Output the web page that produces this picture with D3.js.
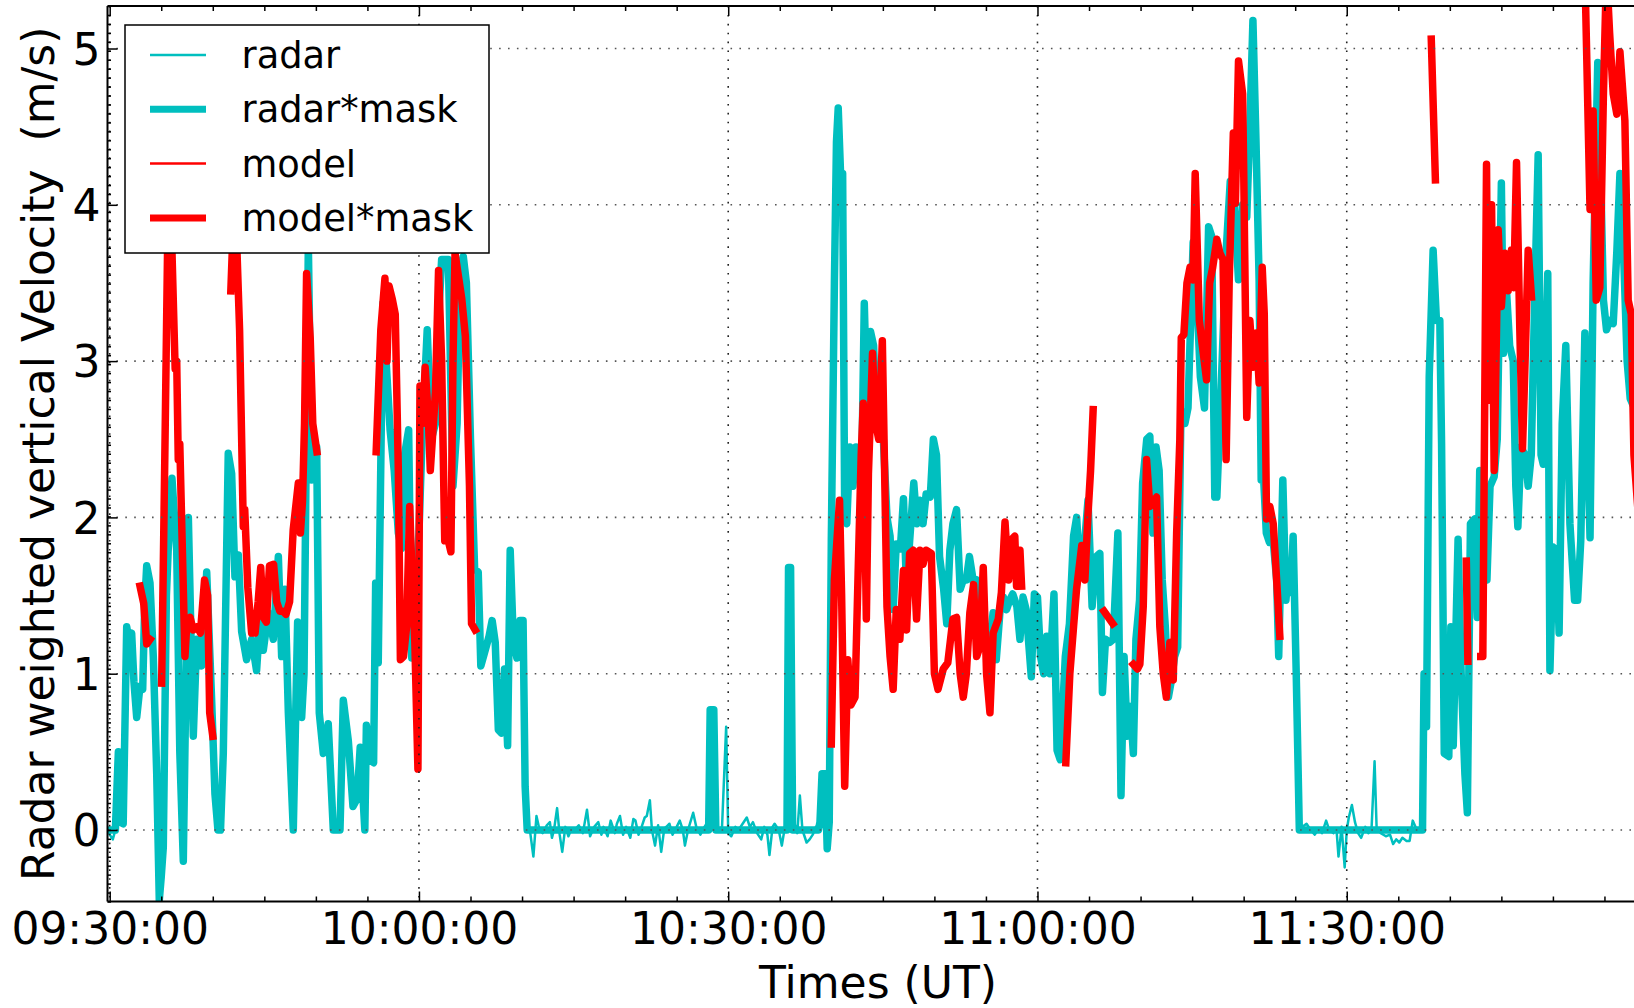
<!DOCTYPE html>
<html>
<head>
<meta charset="utf-8">
<script src="https://cdn.jsdelivr.net/npm/d3@7"></script>
<style>
  html, body { margin: 0; padding: 0; background: #fff; }
  svg { display: block; font-family: "DejaVu Sans", sans-serif; }
</style>
</head>
<body>
<svg id="chart" width="1634" height="1008"></svg>
<script>
// ---- time axis: minutes after 09:30:00 UT ----
const startClock = "09:30:00";
const endClock = "12:00:00";
const xTickLabels = ["09:30:00", "10:00:00", "10:30:00", "11:00:00", "11:30:00"];
const yTicks = [0, 1, 2, 3, 4, 5];
const yLimits = [-0.4575, 5.272];
const xStartMinutes = -0.213;

// intervals (minutes) where the mask is off: radar*mask is 0 there
const maskOff = [[-1, 0.6], [40.45, 58.15], [58.7, 65.75], [66.15, 68.85], [115.35, 127.35]];

// radar weighted vertical velocity (m/s): [minute, value]
const radar = [
  [-0.25,0],[0.0,-0.03],[0.3,-0.06],[0.55,0.0],[0.84,0.5],[1.05,0.05],[1.31,0.04],[1.65,1.3],[1.9,1.2],[2.13,1.26],
  [2.35,0.95],[2.62,0.72],[2.94,0.92],[3.2,0.9],[3.4,1.45],[3.59,1.69],[3.91,1.58],[4.23,1.11],[4.56,0.36],[4.81,-0.45],
  [5.0,-0.3],[5.2,-0.11],[5.5,1.5],[5.8,2.0],[6.04,2.25],[6.5,1.79],[6.8,0.5],[7.14,-0.2],[7.63,2.0],[7.9,1.2],
  [8.11,0.6],[8.44,1.22],[8.92,1.05],[9.41,1.65],[9.89,0.83],[10.21,0.23],[10.5,0],[10.75,0],[11.02,0.49],[11.5,2.41],
  [11.83,2.28],[12.15,1.62],[12.48,1.76],[12.8,1.27],[13.28,1.09],[13.77,1.22],[14.25,1.02],[14.58,1.36],[14.9,1.15],[15.39,1.39],
  [15.87,1.22],[16.36,1.75],[16.68,1.11],[17.0,1.54],[17.33,0.75],[17.81,0],[18.23,1.33],[18.62,0.72],[18.85,1.0],[19.27,3.75],
  [19.59,2.24],[20.08,2.45],[20.33,0.75],[20.72,0.49],[21.2,0.68],[21.69,0],[22.34,0],[22.66,0.83],[23.15,0.57],[23.6,0.15],
  [24.0,0.2],[24.3,0.53],[24.75,0],[24.9,0.67],[25.25,0.45],[25.6,0.43],[25.8,1.58],[26.05,1.07],[26.5,3.37],[26.9,2.9],
  [27.2,2.56],[27.6,2.3],[28.0,1.9],[28.3,1.8],[28.6,2.4],[29.0,2.56],[29.3,1.1],[29.6,1.5],[30.0,1.9],[30.3,2.5],
  [30.8,3.2],[31.2,2.5],[31.6,2.6],[32.0,3.4],[32.2,3.65],[32.85,3.65],[33.3,2.2],[33.7,2.6],[34.0,3.6],[34.3,3.67],
  [34.6,3.5],[35.0,2.5],[35.4,1.67],[35.75,1.65],[36.0,1.05],[36.3,1.12],[36.8,1.24],[37.1,1.34],[37.4,1.2],[37.7,0.64],
  [38.0,0.62],[38.3,1.03],[38.6,0.54],[38.85,1.79],[39.15,1.22],[39.5,1.1],[39.8,1.34],[40.1,1.34],[40.3,0.28],
  [40.5,0],[40.8,-0.02],[41.1,-0.17],[41.4,0.09],[41.7,0.0],[42.0,-0.02],[42.4,0.03],[42.7,0.05],[42.9,-0.05],[43.1,0.0],
  [43.4,0.14],[43.65,-0.03],[43.9,-0.14],[44.2,0.02],[44.5,-0.04],[44.8,0.01],[45.1,0.0],[45.5,0.03],[45.9,-0.02],[46.3,0.13],
  [46.6,-0.04],[47.0,0.02],[47.4,0.05],[47.7,-0.03],[47.9,0.02],[48.3,-0.04],[48.6,0.06],[49.0,-0.02],[49.2,0.04],[49.5,0.09],
  [49.8,-0.03],[50.1,0.02],[50.5,-0.05],[50.8,0.07],[51.0,0.06],[51.3,-0.03],[51.6,0.02],[51.9,0.08],[52.1,0.09],[52.4,0.19],
  [52.6,0.0],[52.9,-0.1],[53.2,0.03],[53.5,-0.14],[53.8,0.01],[54.0,0.02],[54.3,0.04],[54.6,-0.03],[55.0,0.02],[55.3,0.06],
  [55.6,0.0],[55.8,-0.1],[56.1,0.0],[56.6,0.11],[56.9,0.02],[57.3,-0.03],[57.6,0.01],[57.9,0.04],[58.1,0.1],[58.25,0.77],
  [58.6,0.77],[58.8,0.05],[59.1,0.0],[59.4,0.02],[59.8,0.66],[60.0,-0.02],[60.3,-0.04],[60.7,0.02],[61.0,0.0],[61.4,0.04],
  [61.8,0.08],[62.1,0.02],[62.4,0.05],[62.8,-0.02],[63.2,-0.06],[63.5,0.02],[63.8,-0.03],[64.0,-0.16],[64.3,0.02],[64.5,0.04],
  [64.9,0.0],[65.2,-0.1],[65.5,0.02],[65.7,0.05],[65.85,1.68],[66.05,1.68],[66.25,0.05],[66.5,0.03],[66.7,-0.02],[66.95,0.22],
  [67.2,0.0],[67.6,-0.08],[67.9,-0.06],[68.2,-0.03],[68.5,0.02],[68.75,0.02],[68.9,0.05],[69.1,0.36],[69.4,0.36],[69.6,-0.12],
  [69.8,0.05],[70.0,1.85],[70.3,3.5],[70.5,4.4],[70.67,4.62],[70.9,4.2],[71.1,4.2],[71.3,2.0],[71.5,1.96],[71.8,2.45],
  [72.1,2.2],[72.4,2.45],[72.7,2.3],[73.0,2.5],[73.2,3.37],[73.5,2.6],[73.8,3.19],[74.1,3.1],[74.4,2.6],[74.7,2.5],
  [75.05,2.5],[75.4,2.0],[75.7,1.88],[76.0,1.41],[76.3,1.83],[76.7,1.8],[77.0,2.12],[77.3,1.54],[77.6,1.85],[78.0,2.22],
  [78.3,1.96],[78.6,2.11],[78.9,1.96],[79.2,2.15],[79.6,2.13],[79.9,2.5],[80.2,2.4],[80.5,1.75],[80.9,1.54],[81.2,1.32],
  [81.5,1.79],[81.8,1.96],[82.15,2.05],[82.5,1.54],[82.8,1.6],[83.1,1.6],[83.4,1.75],[83.8,1.58],[84.1,1.6],[84.4,1.37],
  [84.7,1.22],[85.1,1.3],[85.4,1.22],[85.7,1.39],[86.0,1.09],[86.4,1.43],[86.7,1.49],[87.0,1.41],[87.3,1.47],[87.6,1.51],
  [88.0,1.43],[88.3,1.22],[88.6,1.49],[88.9,1.41],[89.4,0.98],[89.7,1.51],[90.0,1.49],[90.3,1.11],[90.6,1.0],[90.9,1.24],
  [91.2,1.0],[91.6,1.51],[91.9,0.51],[92.2,0.45],[92.7,1.11],[93.1,1.32],[93.5,1.88],[93.8,2.0],[94.1,1.65],[94.4,1.7],
  [94.9,2.11],[95.3,1.43],[95.7,1.75],[96.05,1.77],[96.3,0.88],[96.6,1.22],[97.0,1.2],[97.35,1.22],[97.8,1.9],[98.1,0.22],
  [98.4,1.11],[98.7,0.6],[99.0,0.79],[99.3,0.49],[99.55,1.22],[99.9,1.47],[100.2,2.22],[100.6,2.5],[100.9,2.52],[101.2,1.9],
  [101.5,2.45],[101.8,2.3],[102.1,1.6],[102.4,1.3],[102.7,0.85],[103.0,0.96],[103.3,1.11],[103.6,1.17],[103.9,2.6],[104.3,2.6],
  [104.6,2.7],[105.1,3.76],[105.4,3.5],[105.8,2.9],[106.2,2.7],[106.6,3.86],[106.9,3.8],[107.2,2.13],[107.4,2.13],[107.8,2.8],
  [108.3,3.7],[108.7,4.15],[109.1,4.0],[109.5,3.52],[109.9,4.0],[110.3,3.92],[110.6,4.5],[110.9,5.18],[111.2,4.4],[111.5,3.52],
  [111.7,2.24],[111.9,2.3],[112.2,1.9],[112.5,1.84],[112.8,1.9],[113.2,1.6],[113.4,1.11],[113.8,2.24],[114.1,1.47],[114.4,1.72],
  [114.6,1.52],[114.8,1.88],[115.1,1.0],[115.4,0],
  [115.7,0.02],[116.1,0.04],[116.5,0.0],[116.9,-0.03],[117.3,0.01],[117.6,-0.02],[118.0,0.06],[118.3,0.0],[118.7,-0.02],[119.0,0.01],
  [119.2,-0.17],[119.5,0.02],[119.8,-0.24],[120.0,0.0],[120.2,0.08],[120.5,0.16],[120.8,0.05],[121.1,-0.02],[121.4,-0.05],[121.8,0.02],
  [122.1,-0.02],[122.4,0.0],[122.7,0.44],[122.9,0.01],[123.3,-0.02],[123.8,-0.04],[124.2,-0.03],[124.5,-0.09],[124.8,-0.06],[125.1,-0.08],
  [125.4,-0.05],[125.8,-0.07],[126.1,-0.07],[126.4,0.06],[126.8,0.0],[127.1,0.0],[127.35,0],
  [127.5,1.0],[127.74,0.66],[128.0,2.9],[128.38,3.71],[128.7,3.26],[129.03,3.26],[129.2,2.47],[129.46,0.49],[129.9,0.47],[130.1,1.3],
  [130.33,0.54],[130.8,1.86],[131.1,1.0],[131.46,0.36],[131.7,0.11],[132.0,1.96],[132.4,1.99],[132.66,1.36],[132.9,2.3],[133.2,1.8],
  [133.6,1.6],[133.9,2.2],[134.3,2.26],[134.6,2.5],[135.0,4.14],[135.2,3.05],[135.5,3.45],[135.8,3.1],[136.15,3.0],[136.4,2.2],
  [136.6,1.94],[136.9,2.45],[137.3,2.4],[137.6,2.2],[137.9,2.4],[138.2,3.3],[138.57,4.32],[138.85,2.4],[139.06,2.34],[139.5,3.56],
  [139.71,1.02],[140.03,1.81],[140.35,1.79],[140.6,1.26],[140.9,2.6],[141.25,3.1],[141.65,1.96],[142.1,1.47],[142.4,1.47],[142.7,1.85],
  [143.1,3.18],[143.6,1.87],[143.9,3.5],[144.35,4.91],[144.6,4.3],[144.9,3.39],[145.2,3.2],[145.5,3.26],[145.85,3.24],[146.2,3.7],
  [146.5,4.2],[146.9,3.6],[147.2,3.0],[147.5,2.76],[147.9,2.7],[148.3,2.9]
];

// model vertical velocity (m/s): [minute, value]; null marks a gap
const model = [
  [2.94,1.56],[3.3,1.45],[3.59,1.19],[3.91,1.22],[4.4,null],
  [5.04,0.94],[5.35,2.4],[5.65,3.9],[6.0,3.8],[6.35,2.95],[6.5,3.0],[6.65,2.37],[6.8,2.47],[7.3,1.11],[7.5,1.34],
  [7.8,1.36],[8.1,1.28],[8.5,1.3],[8.8,1.26],[9.2,1.6],[9.5,1.5],[9.7,0.75],[10.0,0.6],[10.8,null],
  [11.75,3.45],[12.0,3.9],[12.3,3.8],[12.6,3.2],[12.96,1.94],[13.1,2.05],[13.4,1.55],[13.77,1.26],[14.1,1.26],[14.4,1.46],
  [14.65,1.68],[14.9,1.36],[15.2,1.33],[15.5,1.69],[15.9,1.7],[16.2,1.46],[16.5,1.4],[16.8,1.4],[17.1,1.38],[17.45,1.46],
  [17.8,1.92],[18.1,2.1],[18.3,2.22],[18.5,1.9],[18.7,2.1],[18.9,2.6],[19.1,3.56],[19.45,3.15],[19.7,2.6],[20.1,2.42],[22,null],
  [25.85,2.42],[26.3,3.2],[26.7,3.53],[26.9,3.0],[27.1,3.48],[27.4,3.4],[27.7,3.3],[28.0,2.3],[28.2,1.09],[28.5,1.11],
  [28.8,1.3],[29.1,2.07],[29.4,1.5],[29.6,1.2],[29.9,0.39],[30.1,2.84],[30.35,2.6],[30.6,2.96],[30.9,2.65],[31.1,2.3],
  [31.3,2.5],[31.6,2.8],[31.9,3.58],[32.2,3.0],[32.5,1.85],[32.85,1.85],[33.1,1.78],[33.3,3.0],[33.5,3.69],[33.7,3.6],
  [34.15,3.4],[34.5,3.16],[34.9,2.2],[35.1,1.32],[35.45,1.28],[36,null],
  [70.0,0.55],[70.3,1.6],[70.8,2.11],[71.0,1.5],[71.3,0.28],[71.6,1.09],[71.9,0.8],[72.3,0.85],[72.6,1.64],[72.9,2.4],
  [73.1,2.73],[73.4,1.35],[73.6,2.28],[74.0,3.05],[74.3,2.6],[74.6,2.5],[74.95,3.13],[75.4,1.43],[75.7,1.11],[76.0,0.9],
  [76.3,1.41],[76.65,1.22],[77.0,1.66],[77.3,1.28],[77.6,1.77],[77.95,1.79],[78.27,1.35],[78.6,1.79],[78.9,1.7],[79.2,1.79],
  [79.7,1.77],[80.0,1.0],[80.35,0.9],[80.86,1.03],[81.3,1.07],[81.8,1.35],[82.15,1.36],[82.5,1.0],[82.8,0.85],[83.1,1.0],
  [83.44,1.39],[83.8,1.57],[84.1,1.11],[84.4,1.17],[84.74,1.68],[85.06,1.0],[85.39,0.75],[85.7,1.26],[86.2,1.35],[86.5,1.52],
  [86.85,1.97],[87.2,1.6],[87.5,1.86],[87.8,1.88],[87.97,1.56],[88.3,1.79],[88.46,1.56],[90,null],
  [92.75,0.43],[93.14,1.0],[93.5,1.3],[93.79,1.54],[94.3,1.82],[94.6,1.6],[94.9,2.02],[95.15,2.3],[95.4,2.69],[95.8,null],
  [96.45,1.4],[97.3,1.32],[98,null],
  [99.3,1.06],[99.7,1.03],[99.93,1.06],[100.26,1.43],[100.58,2.37],[100.9,2.07],[101.23,2.1],[101.55,2.13],[101.87,1.3],[102.2,1.0],
  [102.5,0.85],[102.84,1.2],[103.17,0.96],[103.5,1.9],[103.81,2.5],[103.95,3.15],[104.2,3.17],[104.5,3.5],[104.8,3.6],[105.1,3.52],
  [105.3,4.2],[105.7,3.26],[106.4,2.88],[106.7,3.5],[107.0,3.6],[107.4,3.78],[107.7,3.69],[108.0,3.65],[108.3,2.37],[108.6,3.52],
  [109.0,4.46],[109.2,4.01],[109.5,4.92],[109.9,4.71],[110.0,4.24],[110.3,2.64],[110.6,3.26],[110.9,2.96],[111.25,3.18],[111.5,2.86],
  [111.8,3.6],[112.0,3.3],[112.22,1.99],[112.54,2.07],[112.87,1.96],[113.2,1.6],[113.51,1.24],[114,null],
  [128.2,5.06],[128.6,4.16],[129,null],
  [131.6,1.72],[131.75,1.08],[132.2,null],
  [133.0,1.11],[133.2,1.11],[133.56,4.26],[133.72,2.75],[134.05,4.0],[134.3,2.3],[134.69,3.84],[135.0,3.35],[135.34,3.69],[135.66,3.45],
  [135.98,3.71],[136.2,3.47],[136.47,4.27],[136.79,3.2],[137.05,2.44],[137.3,3.0],[137.6,3.71],[137.92,3.41],[138.5,null],
  [143.1,5.5],[143.6,3.97],[143.9,4.6],[144.2,3.39],[144.55,3.47],[144.9,4.71],[145.2,5.5],[145.5,5.1],[145.85,4.71],[146.2,4.58],
  [146.5,4.98],[146.98,4.54],[147.3,3.39],[147.6,3.3],[147.86,2.4],[148.3,2.0]
];

const legendItems = [
  { label: "radar",      color: "#00bfbf", width: 2.5 },
  { label: "radar*mask", color: "#00bfbf", width: 7 },
  { label: "model",      color: "#ff0000", width: 2.5 },
  { label: "model*mask", color: "#ff0000", width: 7 }
];

// ---- derived series ----
const isMaskOff = m => maskOff.some(([a, b]) => m >= a && m <= b);
const radarMasked = radar.map(([m, v]) => [m, isMaskOff(m) ? 0 : v]);
const modelMasked = model.map(([m, v]) => [m, v == null ? null : (isMaskOff(m) ? null : v)]);

// ---- geometry ----
const svg = d3.select("#chart");
const frame = { left: 107.5, right: 1656, top: 6, bottom: 901.5 };

const parseClock = d3.timeParse("%H:%M:%S");
const origin = parseClock(startClock);
const at = m => new Date(origin.getTime() + m * 60000);

const x = d3.scaleTime()
  .domain([at(xStartMinutes), parseClock(endClock)])
  .range([frame.left, frame.right]);
const y = d3.scaleLinear().domain(yLimits).range([frame.bottom, frame.top]);

svg.append("defs").append("clipPath").attr("id", "plotClip")
  .append("rect")
  .attr("x", frame.left).attr("y", frame.top)
  .attr("width", frame.right - frame.left).attr("height", frame.bottom - frame.top);

const line = d3.line()
  .defined(d => d[1] != null)
  .x(d => x(at(d[0])))
  .y(d => y(d[1]));

const series = svg.append("g").attr("clip-path", "url(#plotClip)");
const drawSeries = (data, color, width) =>
  series.append("path")
    .datum(data)
    .attr("d", line)
    .attr("fill", "none")
    .attr("stroke", color)
    .attr("stroke-width", width)
    .attr("stroke-linejoin", "round")
    .attr("stroke-linecap", "square");

drawSeries(radar, "#00bfbf", 2.5);
drawSeries(radarMasked, "#00bfbf", 7.5);
drawSeries(model, "#ff0000", 2.5);
drawSeries(modelMasked, "#ff0000", 7.5);

// ---- grid (drawn over the lines) ----
const majorTimes = xTickLabels.map(parseClock);
const grid = svg.append("g").attr("clip-path", "url(#plotClip)");
grid.selectAll("line.hgrid").data(yTicks).join("line")
  .attr("class", "hgrid")
  .attr("x1", frame.left).attr("x2", frame.right)
  .attr("y1", d => y(d)).attr("y2", d => y(d))
  .attr("stroke", "#555").attr("stroke-width", 1.6)
  .attr("stroke-dasharray", "1.6,7.3");
grid.selectAll("line.vgrid").data(majorTimes).join("line")
  .attr("class", "vgrid")
  .attr("x1", d => x(d)).attr("x2", d => x(d))
  .attr("y1", frame.top).attr("y2", frame.bottom)
  .attr("stroke", "#222").attr("stroke-width", 1.6)
  .attr("stroke-dasharray", "1.6,7.3");

// ---- axes ----
const fmt = d3.timeFormat("%H:%M:%S");
const minorTimes = d3.timeMinute.every(5).range(at(xStartMinutes), parseClock(endClock))
  .filter(d => d.getMinutes() % 30 !== 0);
const yMinor = d3.range(101).map(i => yLimits[0] + i * (yLimits[1] - yLimits[0]) / 100);

function styleAxis(g) {
  g.select(".domain").remove();
  g.selectAll(".tick line").attr("stroke", "#000").attr("stroke-width", 1.5);
  g.selectAll(".tick text")
    .attr("fill", "#000")
    .style("font-family", "'DejaVu Sans', sans-serif")
    .style("font-size", "44px");
}

svg.append("g").attr("transform", `translate(0,${frame.bottom})`)
  .call(d3.axisBottom(x).tickValues(majorTimes).tickFormat(fmt)
    .tickSizeInner(-10).tickSizeOuter(0).tickPadding(11))
  .call(styleAxis);
svg.append("g").attr("transform", `translate(0,${frame.bottom})`)
  .call(d3.axisBottom(x).tickValues(minorTimes).tickFormat("")
    .tickSizeInner(-5).tickSizeOuter(0))
  .call(styleAxis);
svg.append("g").attr("transform", `translate(0,${frame.top})`)
  .call(d3.axisTop(x).tickValues(majorTimes).tickFormat("")
    .tickSizeInner(-10).tickSizeOuter(0))
  .call(styleAxis);
svg.append("g").attr("transform", `translate(0,${frame.top})`)
  .call(d3.axisTop(x).tickValues(minorTimes).tickFormat("")
    .tickSizeInner(-5).tickSizeOuter(0))
  .call(styleAxis);

const yAxisG = svg.append("g").attr("transform", `translate(${frame.left},0)`)
  .call(d3.axisLeft(y).tickValues(yTicks).tickFormat(d3.format("d"))
    .tickSizeInner(-10).tickSizeOuter(0).tickPadding(7))
  .call(styleAxis);
yAxisG.selectAll(".tick text").attr("dy", "0.36em");
svg.append("g").attr("transform", `translate(${frame.left},0)`)
  .call(d3.axisLeft(y).tickValues(yMinor).tickFormat("")
    .tickSizeInner(-3.5).tickSizeOuter(0))
  .call(styleAxis);

// frame
const spine = svg.append("g").attr("stroke", "#000").attr("stroke-width", 2).attr("fill", "none");
spine.append("line").attr("x1", frame.left).attr("x2", frame.left).attr("y1", frame.top).attr("y2", frame.bottom);
spine.append("line").attr("x1", frame.left).attr("x2", frame.right).attr("y1", frame.bottom).attr("y2", frame.bottom);
spine.append("line").attr("x1", frame.left).attr("x2", frame.right).attr("y1", frame.top).attr("y2", frame.top);

// axis titles
svg.append("text")
  .attr("x", 878).attr("y", 998)
  .attr("text-anchor", "middle")
  .style("font-size", "44px").attr("fill", "#000")
  .text("Times (UT)");
svg.append("text")
  .attr("transform", `translate(54,${(frame.top + frame.bottom) / 2}) rotate(-90)`)
  .attr("text-anchor", "middle")
  .style("font-size", "44px").style("white-space", "pre").attr("fill", "#000")
  .text("Radar weighted vertical Velocity  (m/s)");

// ---- legend ----
const legend = svg.append("g").attr("transform", "translate(125,25)");
legend.append("rect")
  .attr("width", 364).attr("height", 228)
  .attr("fill", "#fff").attr("stroke", "#000").attr("stroke-width", 1.5);
const rows = legend.selectAll("g.row").data(legendItems).join("g")
  .attr("class", "row")
  .attr("transform", (d, i) => `translate(0,${30 + i * 54.3})`);
rows.append("line")
  .attr("x1", 25).attr("x2", 81)
  .attr("stroke", d => d.color).attr("stroke-width", d => d.width);
rows.append("text")
  .attr("x", 116.5).attr("y", 13)
  .style("font-size", "36.8px").attr("fill", "#000")
  .text(d => d.label);
</script>
</body>
</html>
